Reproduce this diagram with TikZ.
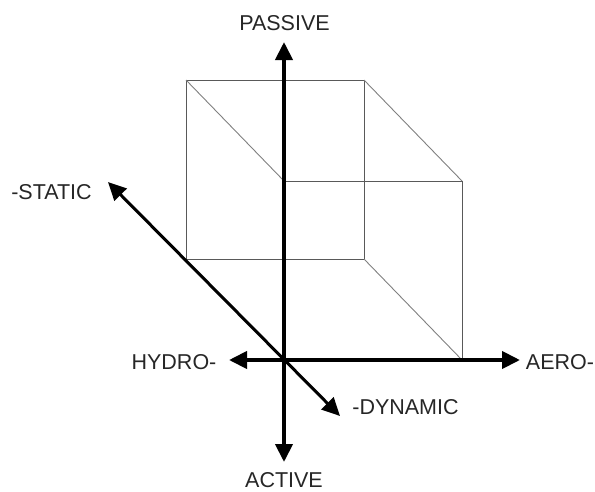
\documentclass[tikz,border=0pt]{standalone}
\usepackage{fontspec}
\setmainfont{Liberation Sans}
\usetikzlibrary{arrows.meta}
\tikzset{
  axis/.style={line width=4pt,
    {Triangle[length=18pt,width=17pt]}-{Triangle[length=18pt,width=17pt]}},
  edge/.style={black!65,line width=0.9pt},
  lbl/.style={font=\fontsize{21.5}{24}\selectfont,text=black!85,inner sep=0pt}
}
\begin{document}
\begin{tikzpicture}[x=1pt,y=-1pt]
    \useasboundingbox (0,0) rectangle (595,491);
    % cube corners: front square on the origin, back square up-left
    \foreach \i/\x/\y in {1/284/360,2/462/360,3/462/181,4/284/181}{
      \coordinate (f\i) at (\x,\y);
      \coordinate (b\i) at (\x-98,\y-101);
    }
    \draw[edge] (b1)--(b2)--(b3)--(b4)--cycle;
    \draw[edge] (f1)--(f2)--(f3)--(f4)--cycle;
    \foreach \i in {2,3,4}
      \draw[edge,black!50] (b\i)--(f\i);
    % axis tips
    \coordinate (pa) at (284,42);
    \coordinate (ac) at (284,462);
    \coordinate (hy) at (229,360);
    \coordinate (ae) at (520,360);
    \coordinate (st) at (108,182);
    \coordinate (dy) at (340,416);
    \draw[axis] (pa)--(ac);
    \draw[axis] (hy)--(ae);
    \draw[axis,line width=3pt] (st)--(dy);
    % labels
    \node[lbl] (passive) at (284.5,23) {PASSIVE};
    \node[lbl] (active) at (284,480.5) {ACTIVE};
    \node[lbl] (hydro) at (174,362) {HYDRO-};
    \node[lbl] (aero) at (560,362) {AERO-};
    \node[lbl] (static) at (51.5,192) {-STATIC};
    \node[lbl] (dynamic) at (405.5,407) {-DYNAMIC};
  \end{tikzpicture}
\end{document}
